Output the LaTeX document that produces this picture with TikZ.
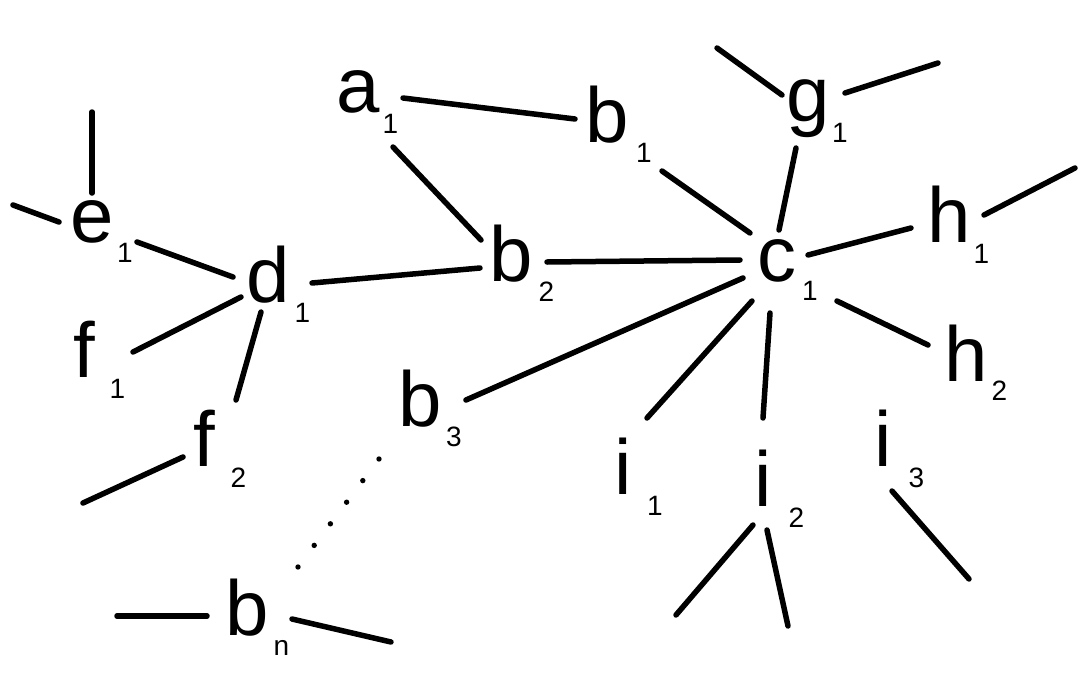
\documentclass[tikz,border=0pt]{standalone}
\usepackage{fontspec}
\setmainfont{Liberation Sans}
\usetikzlibrary{calc}
\begin{document}
\begin{tikzpicture}[x=1pt,y=-1pt,
  lbl/.style={anchor=base,inner sep=0pt,font=\fontsize{78}{78}\selectfont},
  sub/.style={anchor=base,inner sep=0pt,font=\fontsize{28}{28}\selectfont},
  edge/.style={line width=5.5pt,line cap=round}]
\useasboundingbox[fill=white] (0,0) rectangle (1080,699);
% main labels
\node[lbl] (a1) at (358,112) {a};
\node[lbl] (b1) at (607,142) {b};
\node[lbl] (b2) at (511,281) {b};
\node[lbl] (b3) at (420,426) {b};
\node[lbl] (bn) at (247,635) {b};
\node[lbl] (c1) at (777,281) {c};
\node[lbl] (d1) at (268,302) {d};
\node[lbl] (e1) at (92,242) {e};
\node[lbl] (f1) at (84,377) {f};
\node[lbl] (f2) at (204,466) {f};
\node[lbl] (g1) at (808,121) {g};
\node[lbl] (h1) at (949,242) {h};
\node[lbl] (h2) at (966,381) {h};
\node[lbl] (i1) at (623,494) {i};
\node[lbl] (i2) at (763,506) {i};
\node[lbl] (i3) at (883,466) {i};
% subscripts
\node[sub] (a1s) at (390.5,133) {1};
\node[sub] (b1s) at (644,162) {1};
\node[sub] (b2s) at (546.5,301) {2};
\node[sub] (b3s) at (454,446) {3};
\node[sub] (bns) at (281.5,655) {n};
\node[sub] (c1s) at (810,300) {1};
\node[sub] (d1s) at (302.5,322) {1};
\node[sub] (e1s) at (125,262) {1};
\node[sub] (f1s) at (117.5,398) {1};
\node[sub] (f2s) at (238.5,487) {2};
\node[sub] (g1s) at (840,142) {1};
\node[sub] (h1s) at (981.5,263) {1};
\node[sub] (h2s) at (999.5,400) {2};
\node[sub] (i1s) at (655,515) {1};
\node[sub] (i2s) at (796.5,527) {2};
\node[sub] (i3s) at (916.5,487) {3};
% connectors between labels
\draw[edge] ([shift={(45,0)}]e1.base) -- ([shift={(-35,-25)}]d1.base);
\draw[edge] ([shift={(-27,-5)}]d1.base) -- ([shift={(49,-25)}]f1.base);
\draw[edge] ([shift={(-7,10)}]d1.base) -- ([shift={(32,-66)}]f2.base);
\draw[edge] ([shift={(44,-19)}]d1.base) -- ([shift={(-31,-13)}]b2.base);
\draw[edge] ([shift={(45,-14)}]a1.base) -- ([shift={(-32,-23)}]b1.base);
\draw[edge] ([shift={(35,35)}]a1.base) -- ([shift={(-30,-41)}]b2.base);
\draw[edge] ([shift={(55,29)}]b1.base) -- ([shift={(-27,-48)}]c1.base);
\draw[edge] ([shift={(36,-19)}]b2.base) -- ([shift={(-37,-21)}]c1.base);
\draw[edge] ([shift={(-12,27)}]g1.base) -- ([shift={(2,-51)}]c1.base);
\draw[edge] ([shift={(31,-26)}]c1.base) -- ([shift={(-38,-14)}]h1.base);
\draw[edge] ([shift={(60,20)}]c1.base) -- ([shift={(-38,-36)}]h2.base);
\draw[edge] ([shift={(-34,-3)}]c1.base) -- ([shift={(46,-26)}]b3.base);
\draw[edge] ([shift={(-25,20)}]c1.base) -- ([shift={(24,-76)}]i1.base);
\draw[edge] ([shift={(-7,32)}]c1.base) -- ([shift={(0,-88)}]i2.base);
% dotted connector b3 -- bn
\coordinate (dotA) at ([shift={(-41,33)}]b3.base);
\coordinate (dotB) at ([shift={(51,-68)}]bn.base);
\foreach \t in {0,0.2,0.4,0.6,0.8,1}
  \fill ($(dotA)!\t!(dotB)$) circle (2.7);
% free-ended connectors
\draw[edge] ([shift={(0,-49)}]e1.base) -- ++(0,-81);
\draw[edge] ([shift={(-33,-20)}]e1.base) -- ++(-46,-17);
\draw[edge] ([shift={(-21,-9)}]f2.base) -- ++(-100,46);
\draw[edge] ([shift={(-26,-26)}]g1.base) -- ++(-65,-47);
\draw[edge] ([shift={(37,-28)}]g1.base) -- ++(93,-30);
\draw[edge] ([shift={(35,-27)}]h1.base) -- ++(91,-47);
\draw[edge] ([shift={(-10,19)}]i2.base) -- ++(-77,90);
\draw[edge] ([shift={(4,24)}]i2.base) -- ++(21,96);
\draw[edge] ([shift={(9,25)}]i3.base) -- ++(77,88);
\draw[edge] ([shift={(-40,-19)}]bn.base) -- ++(-90,0);
\draw[edge] ([shift={(45,-16)}]bn.base) -- ++(99,23);
\end{tikzpicture}
\end{document}
